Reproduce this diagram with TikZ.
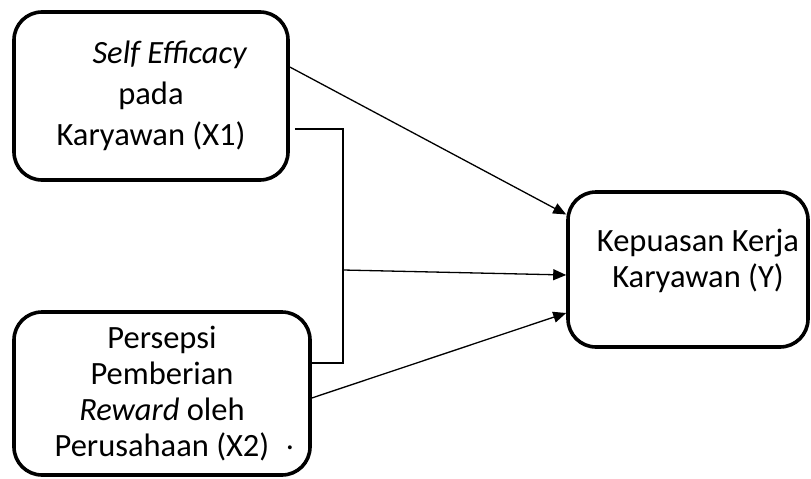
\documentclass[tikz,border=0pt]{standalone}
\usepackage{fontspec}
\setmainfont{Carlito}
\usetikzlibrary{arrows.meta}

\tikzset{
	box/.style={draw,line width=3.6pt,rounded corners=28pt,align=center,inner sep=0pt},
	link/.style={line width=1.3pt},
	arr/.style={link,-{Triangle[length=13pt,width=11pt]}}
}

\begin{document}
\begin{tikzpicture}[x=1pt,y=-1pt]
	\useasboundingbox (0,0) rectangle (811,479);
	% variable boxes
	\node[box,minimum width=274pt,minimum height=168pt,font=\fontsize{32.5}{41}\selectfont] (x1) at (151,96)
		{\hspace*{38pt}\textit{Self Efficacy}\\pada\\Karyawan (X1)};
	\node[box,minimum width=296pt,minimum height=163pt,font=\fontsize{32.5}{36}\selectfont] (x2) at (162,393.5)
		{Persepsi\\Pemberian\\\textit{Reward} oleh\\Perusahaan (X2)};
	\node[box,minimum width=240pt,minimum height=155pt] (y) at (688,269.5) {};
	\node[align=center,font=\fontsize{32.5}{36}\selectfont,inner sep=0pt] (ytext) at ([xshift=10pt,yshift=9pt]y.center)
		{Kepuasan Kerja\\Karyawan (Y)};
	\node[font=\fontsize{32.5}{36}\selectfont,inner sep=0pt] (dot) at (290,448) {.};
	% bracket joining X1 and X2
	\coordinate (b1) at ([xshift=5pt,yshift=-33pt]x1.east);
	\coordinate (b2) at ([yshift=30.5pt]x2.east);
	\coordinate (jn) at (343,270);
	\draw[link] (b1) -| (jn) |- (b2);
	% arrows into Y
	\draw[arr] ([yshift=29pt]x1.east) -- ([yshift=55pt]y.west);
	\draw[arr] (jn) -- ([yshift=-5.5pt]y.west);
	\draw[arr] ([yshift=-4.5pt]x2.east) -- ([yshift=-43.5pt]y.west);
\end{tikzpicture}
\end{document}
